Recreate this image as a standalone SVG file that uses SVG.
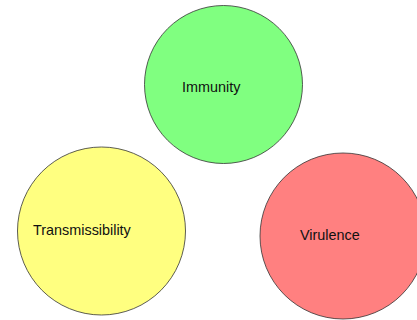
<svg xmlns="http://www.w3.org/2000/svg" width="417" height="320" viewBox="0 0 417 320">
  <style>
    .node circle { stroke: #333; stroke-width: 0.8; }
    .label { font-family: "Liberation Sans", Arial, sans-serif; font-size: 14.4px; fill: #111; }
  </style>
  <rect width="417" height="320" fill="#ffffff"/>
  <g id="connectors"></g>
  <g id="immunity" class="node">
    <circle cx="223.5" cy="84.5" r="79" fill="#80ff80"/>
    <text class="label" x="182" y="92">Immunity</text>
  </g>
  <g id="transmissibility" class="node">
    <circle cx="101.5" cy="231" r="84" fill="#ffff80"/>
    <text class="label" x="33" y="235">Transmissibility</text>
  </g>
  <g id="virulence" class="node">
    <circle cx="343" cy="236" r="83" fill="#ff8080"/>
    <text class="label" x="300" y="240">Virulence</text>
  </g>
</svg>
